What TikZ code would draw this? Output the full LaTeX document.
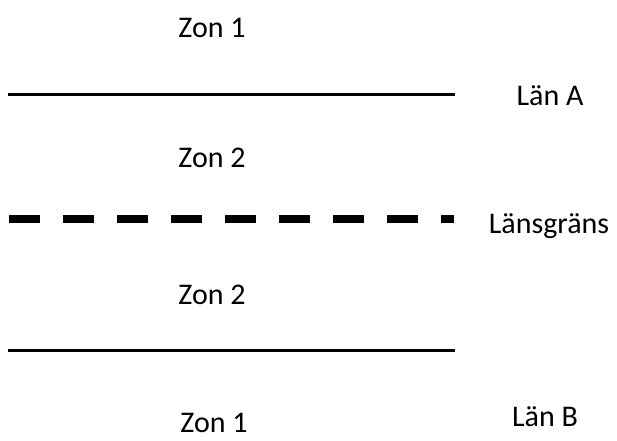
\documentclass[tikz,border=0pt]{standalone}
\usepackage{fontspec}
\setmainfont{Carlito}
\begin{document}
\begin{tikzpicture}[x=1pt,y=-1pt,
  lbl/.style={font=\fontsize{30}{35}\selectfont, inner sep=0pt, anchor=center},
  border/.style={line width=3pt},
  countyborder/.style={line width=8pt, dash pattern=on 30.5pt off 23.5pt}]
  \useasboundingbox (0,0) rectangle (617,440);

  % zone labels
  \node[lbl] (z1top) at (212,28) {Zon 1};
  \node[lbl] (z2top) at (212,158) {Zon 2};
  \node[lbl] (z2bot) at (212,295) {Zon 2};
  \node[lbl] (z1bot) at (214,423) {Zon 1};

  % county labels
  \node[lbl] (lanA) at (550,96) {Län A};
  \node[lbl] (grans) at (549,226) {Länsgräns};
  \node[lbl] (lanB) at (545,417) {Län B};

  % boundary lines
  \coordinate (a1) at (8,94);   \coordinate (a2) at (455,94);
  \coordinate (g1) at (9,219);  \coordinate (g2) at (454,219);
  \coordinate (b1) at (8,350);  \coordinate (b2) at (455,350);
  \draw[border] (a1) -- (a2);
  \draw[countyborder] (g1) -- (g2);
  \draw[border] (b1) -- (b2);
\end{tikzpicture}
\end{document}
